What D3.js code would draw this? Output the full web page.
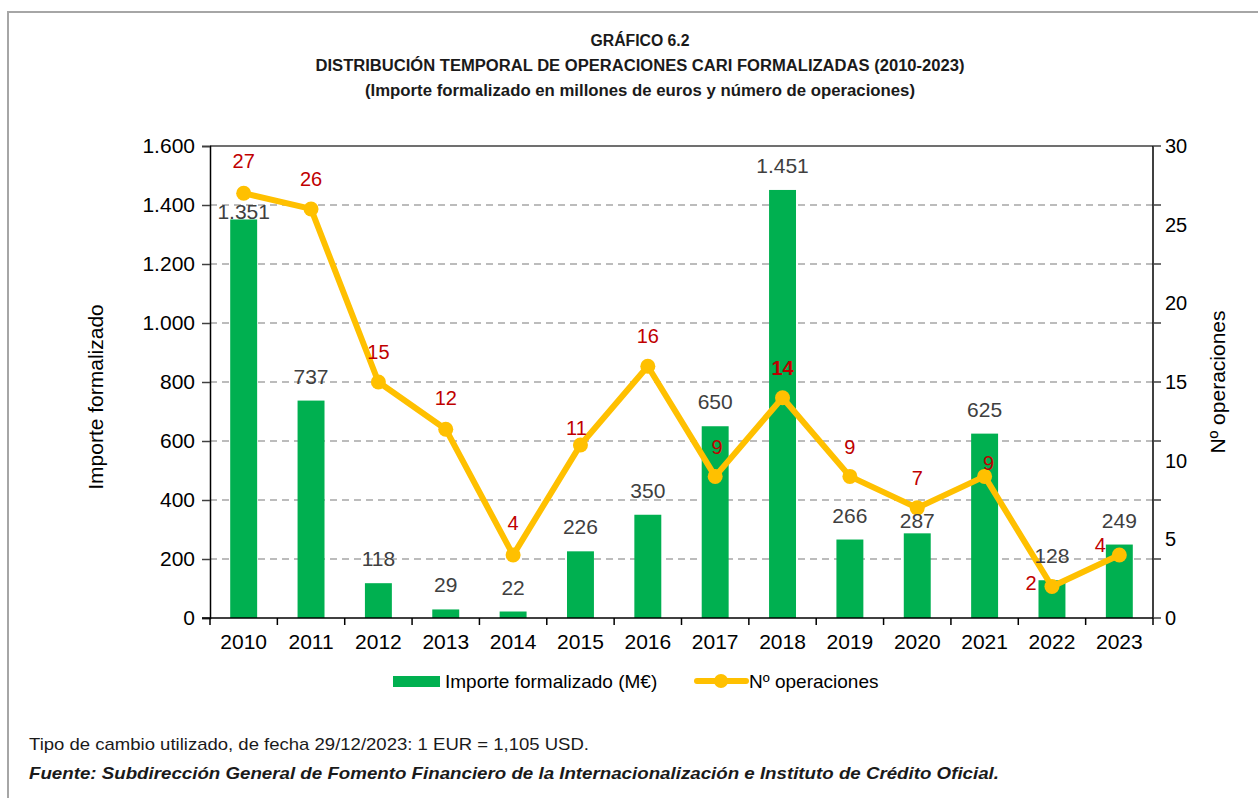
<!DOCTYPE html>
<html>
<head>
<meta charset="utf-8">
<script src="https://cdn.jsdelivr.net/npm/d3@7"></script>
<style>
  body { margin: 0; background: #fff; }
  svg { display: block; }
  svg text { font-family: "Liberation Sans", Arial, sans-serif; }
</style>
</head>
<body>
<div id="chart"></div>
<script>
const years = ["2010", "2011", "2012", "2013", "2014", "2015", "2016", "2017", "2018", "2019", "2020", "2021", "2022", "2023"];
const importe = [1351, 737, 118, 29, 22, 226, 350, 650, 1451, 266, 287, 625, 128, 249];
const operaciones = [27, 26, 15, 12, 4, 11, 16, 9, 14, 9, 7, 9, 2, 4];
const leftTicks = [0, 200, 400, 600, 800, 1000, 1200, 1400, 1600];
const rightTicks = [0, 5, 10, 15, 20, 25, 30];

// where the red labels sit around each point (dx, dy from point centre)
const opLabelDx = [0, 0, 0, 0, 0, -4, 0, 2, 0, 0, 0, 4, -21, -19];
const opLabelDy = [-32, -30, -30, -31, -32, -17, -30, -29, -30, -29, -30, -13, -4, -10];
const opLabelBold = [false, false, false, false, false, false, false, false, true, false, false, false, false, false];
// a couple of bar labels were pushed down towards their bar
const barLabelDy = [17, 0, 0, 0, 0, 0, 0, 0, 0, 0, 12, 0, 0, 0];

const W = 1258, H = 798;
const plot = { left: 210, right: 1153, top: 146, bottom: 618 };

const loc = d3.formatLocale({ decimal: ",", thousands: ".", grouping: [3], currency: ["", "€"] });
const fmt = loc.format(",d");

const svg = d3.select("#chart").append("svg")
  .attr("width", W)
  .attr("height", H);

// frame
svg.append("path")
  .attr("d", `M8,${H} L8,12 L${W},12`)
  .attr("fill", "none")
  .attr("stroke", "#a6a6a6")
  .attr("stroke-width", 2);

// titles (condensed face is not installed, so squeeze to the original widths)
const titles = [
  "GRÁFICO 6.2",
  "DISTRIBUCIÓN TEMPORAL DE OPERACIONES CARI FORMALIZADAS (2010-2023)",
  "(Importe formalizado en millones de euros y número de operaciones)"
];
const titleWidths = [99, 649, 550];
svg.selectAll(".title")
  .data(titles)
  .enter()
  .append("text")
  .attr("class", "title")
  .attr("x", 640)
  .attr("y", (d, i) => 46 + i * 25)
  .attr("text-anchor", "middle")
  .attr("font-size", 16)
  .attr("font-weight", "bold")
  .attr("fill", "#1a1a1a")
  .attr("textLength", (d, i) => titleWidths[i])
  .attr("lengthAdjust", "spacingAndGlyphs")
  .text((d) => d);

const g = svg.append("g").attr("class", "chart");

const x = d3.scaleBand()
  .domain(years)
  .range([plot.left, plot.right])
  .paddingInner(0.6)
  .paddingOuter(0.3);
const band = d3.scaleBand().domain(years).range([plot.left, plot.right]);

const y = d3.scaleLinear().domain([0, 1600]).range([plot.bottom, plot.top]);
const y2 = d3.scaleLinear().domain([0, 30]).range([plot.bottom, plot.top]);

// grid
g.append("g")
  .selectAll("line")
  .data(leftTicks.filter((d) => d > 0 && d < 1600))
  .enter()
  .append("line")
  .attr("x1", plot.left)
  .attr("x2", plot.right)
  .attr("y1", (d) => y(d))
  .attr("y2", (d) => y(d))
  .attr("stroke", "#a6a6a6")
  .attr("stroke-width", 1.5)
  .attr("stroke-dasharray", "7,5");

g.append("line")
  .attr("x1", plot.left)
  .attr("x2", plot.right)
  .attr("y1", y(1600))
  .attr("y2", y(1600))
  .attr("stroke", "#404040")
  .attr("stroke-width", 1.5);

// bars
g.selectAll(".bar")
  .data(importe)
  .enter()
  .append("rect")
  .attr("class", "bar")
  .attr("x", (d, i) => x(years[i]))
  .attr("width", x.bandwidth())
  .attr("y", (d) => y(d))
  .attr("height", (d) => y(0) - y(d))
  .attr("fill", "#00b050");

// left axis
const leftAxis = g.append("g")
  .attr("transform", `translate(${plot.left},0)`)
  .call(d3.axisLeft(y).tickValues(leftTicks).tickFormat(fmt).tickSize(8).tickPadding(7));
leftAxis.select(".domain").attr("stroke", "#000").attr("stroke-width", 1.5);
leftAxis.selectAll(".tick line").attr("stroke", "#404040").attr("stroke-width", 1.5);
leftAxis.selectAll(".tick text").attr("font-size", 21).attr("fill", "#000");

// right axis: labels on the secondary scale, tick marks at the grid lines
const rightAxis = g.append("g")
  .attr("transform", `translate(${plot.right},0)`);
rightAxis.append("line")
  .attr("y1", plot.top)
  .attr("y2", plot.bottom)
  .attr("stroke", "#000")
  .attr("stroke-width", 1.5);
rightAxis.selectAll(".rtick")
  .data(leftTicks)
  .enter()
  .append("line")
  .attr("class", "rtick")
  .attr("x1", 0)
  .attr("x2", 8)
  .attr("y1", (d) => y(d))
  .attr("y2", (d) => y(d))
  .attr("stroke", "#404040")
  .attr("stroke-width", 1.5);
rightAxis.selectAll(".rlabel")
  .data(rightTicks)
  .enter()
  .append("text")
  .attr("class", "rlabel")
  .attr("x", 12)
  .attr("y", (d) => y2(d))
  .attr("dy", "0.35em")
  .attr("font-size", 20)
  .attr("fill", "#000")
  .text((d) => d);

// x axis
const xAxis = g.append("g")
  .attr("transform", `translate(0,${plot.bottom})`)
  .call(d3.axisBottom(band).tickSize(0).tickPadding(16));
xAxis.select(".domain").remove();
xAxis.selectAll(".tick text").attr("font-size", 21).attr("fill", "#000");
g.append("line")
  .attr("x1", plot.left - 8)
  .attr("x2", plot.right)
  .attr("y1", plot.bottom)
  .attr("y2", plot.bottom)
  .attr("stroke", "#000")
  .attr("stroke-width", 1.5);
g.append("g")
  .selectAll("line")
  .data(years.concat(["end"]))
  .enter()
  .append("line")
  .attr("x1", (d, i) => plot.left + i * band.bandwidth())
  .attr("x2", (d, i) => plot.left + i * band.bandwidth())
  .attr("y1", plot.bottom)
  .attr("y2", plot.bottom + 7)
  .attr("stroke", "#000")
  .attr("stroke-width", 1.5);

// line
const cx = (i) => band(years[i]) + band.bandwidth() / 2;
const line = d3.line()
  .x((d, i) => cx(i))
  .y((d) => y2(d));
g.append("path")
  .datum(operaciones)
  .attr("d", line)
  .attr("fill", "none")
  .attr("stroke", "#ffc000")
  .attr("stroke-width", 6)
  .attr("stroke-linejoin", "round");
g.selectAll(".pt")
  .data(operaciones)
  .enter()
  .append("circle")
  .attr("class", "pt")
  .attr("cx", (d, i) => cx(i))
  .attr("cy", (d) => y2(d))
  .attr("r", 7.5)
  .attr("fill", "#ffc000");

// bar labels
g.selectAll(".barlabel")
  .data(importe)
  .enter()
  .append("text")
  .attr("class", "barlabel")
  .attr("x", (d, i) => x(years[i]) + x.bandwidth() / 2)
  .attr("y", (d, i) => y(d) - 17 + barLabelDy[i])
  .attr("text-anchor", "middle")
  .attr("font-size", 21)
  .attr("fill", "#404040")
  .text((d) => fmt(d));

g.selectAll(".oplabel")
  .data(operaciones)
  .enter()
  .append("text")
  .attr("class", "oplabel")
  .attr("x", (d, i) => cx(i) + opLabelDx[i])
  .attr("y", (d, i) => y2(d) + opLabelDy[i])
  .attr("dy", "0.35em")
  .attr("text-anchor", "middle")
  .attr("font-size", 20)
  .attr("font-weight", (d, i) => (opLabelBold[i] ? "bold" : "normal"))
  .attr("fill", "#c00000")
  .text((d) => d);

// axis titles
g.append("text")
  .attr("transform", `translate(103,${(plot.top + plot.bottom) / 2 + 15}) rotate(-90)`)
  .attr("text-anchor", "middle")
  .attr("font-size", 21)
  .attr("fill", "#000")
  .text("Importe formalizado");
g.append("text")
  .attr("transform", `translate(1225,${(plot.top + plot.bottom) / 2}) rotate(-90)`)
  .attr("text-anchor", "middle")
  .attr("font-size", 21)
  .attr("fill", "#000")
  .text("Nº operaciones");

// legend
const legend = g.append("g").attr("transform", "translate(0,681)");
legend.append("rect")
  .attr("x", 393)
  .attr("y", -5)
  .attr("width", 47)
  .attr("height", 11)
  .attr("fill", "#00b050");
legend.append("text")
  .attr("x", 445)
  .attr("y", 0)
  .attr("dy", "0.35em")
  .attr("font-size", 19)
  .attr("fill", "#000")
  .text("Importe formalizado (M€)");
legend.append("line")
  .attr("x1", 697)
  .attr("x2", 746)
  .attr("stroke", "#ffc000")
  .attr("stroke-width", 6)
  .attr("stroke-linecap", "round");
legend.append("circle")
  .attr("cx", 721)
  .attr("r", 7)
  .attr("fill", "#ffc000");
legend.append("text")
  .attr("x", 749)
  .attr("y", 0)
  .attr("dy", "0.35em")
  .attr("font-size", 19)
  .attr("fill", "#000")
  .text("Nº operaciones");

// notes
svg.append("text")
  .attr("x", 29)
  .attr("y", 750)
  .attr("font-size", 17)
  .attr("fill", "#1a1a1a")
  .attr("textLength", 560)
  .attr("lengthAdjust", "spacingAndGlyphs")
  .text("Tipo de cambio utilizado, de fecha 29/12/2023: 1 EUR = 1,105 USD.");
svg.append("text")
  .attr("x", 29)
  .attr("y", 779)
  .attr("font-size", 17)
  .attr("font-weight", "bold")
  .attr("font-style", "italic")
  .attr("fill", "#1a1a1a")
  .attr("textLength", 970)
  .attr("lengthAdjust", "spacingAndGlyphs")
  .text("Fuente: Subdirección General de Fomento Financiero de la Internacionalización e Instituto de Crédito Oficial.");
</script>
</body>
</html>
